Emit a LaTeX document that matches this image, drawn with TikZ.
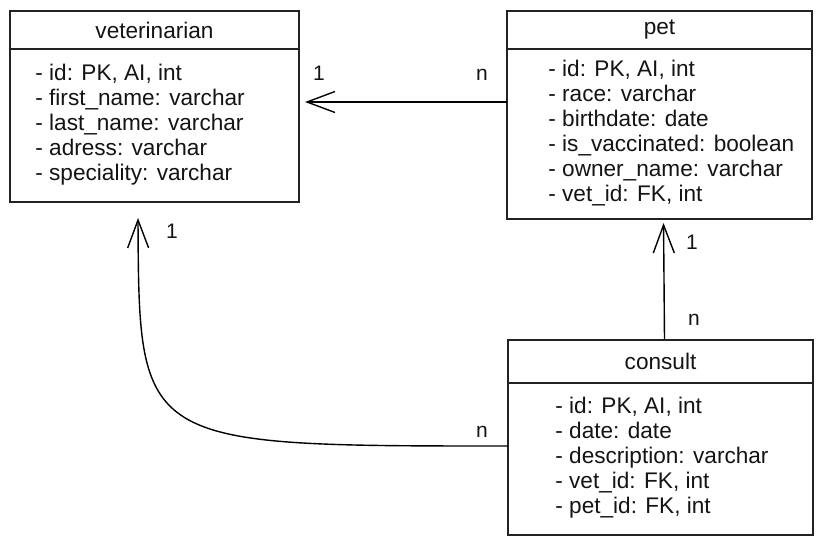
\documentclass[tikz,border=0pt]{standalone}
\usepackage{fontspec}
\setmainfont{Liberation Sans}
\usepackage{tikz}
\usetikzlibrary{arrows.meta,positioning,calc}
\definecolor{ERLine}{RGB}{34,34,34}
\definecolor{ERText}{RGB}{20,20,20}

\begin{document}
\begin{tikzpicture}[
    x=0.5pt, y=-0.5pt,
    tabbox/.style={draw=ERLine, line width=1pt, fill=white, outer sep=0pt, inner sep=0pt, text=ERText, font=\fontsize{11.3}{12.5}\selectfont},
    fields/.style={align=left, inner sep=0pt, anchor=west, text=ERText, font=\fontsize{11.3}{12.5}\selectfont},
    card/.style={inner sep=0pt, text=ERText, font=\fontsize{10.5}{12}\selectfont},
    rel/.style={-{Straight Barb[length=14pt,width=10.5pt]}, line width=0.7pt, draw=black}
  ]
    \useasboundingbox (0,0) rectangle (823,545);
    \node[tabbox, minimum width=144.5pt, minimum height=19pt] (vethead) at (154.5,30) {veterinarian};
    \node[tabbox, minimum width=144.5pt, minimum height=76.5pt, below=0pt of vethead] (vetbody) {};
    \node[fields] (vetfields) at ($(vetbody.west)+(25,-0.5)$) {- id: PK, AI, int\\- first\_name: varchar\\- last\_name: varchar\\- adress: varchar\\- speciality: varchar};
    \node[tabbox, minimum width=152.5pt, minimum height=19pt] (pethead) at (659.5,30) {pet};
    \node[tabbox, minimum width=152.5pt, minimum height=85pt, below=0pt of pethead] (petbody) {};
    \node[fields] (petfields) at ($(petbody.west)+(41,-1)$) {- id: PK, AI, int\\- race: varchar\\- birthdate: date\\- is\_vaccinated: boolean\\- owner\_name: varchar\\- vet\_id: FK, int};
    \node[tabbox, minimum width=152.5pt, minimum height=21.5pt] (conhead) at (660.5,361.5) {consult};
    \node[tabbox, minimum width=152.5pt, minimum height=76pt, below=0pt of conhead] (conbody) {};
    \node[fields] (confields) at ($(conbody.west)+(47,-1)$) {- id: PK, AI, int\\- date: date\\- description: varchar\\- vet\_id: FK, int\\- pet\_id: FK, int};
    \coordinate (petout) at ([yshift=16pt]petbody.west);
    \coordinate (conout) at ([yshift=6.5pt]conbody.west);
    \coordinate (vetin) at ([xshift=-8.25pt,yshift=-8pt]vetbody.south);
    \coordinate (bend) at (139,446);
    \draw[rel, shorten >=3pt] (petout) -- (vetbody.east |- petout);
    \draw[rel, shorten >=2pt] ([xshift=2pt]conhead.north) -- ([xshift=2pt]petbody.south);
    \draw[rel] (conout) .. controls (bend) and (bend) .. (vetin);
    \node[card] (vetone) at (319,73) {1};
    \node[card] (petmany) at (482,75) {n};
    \node[card] (petone) at (692,242) {1};
    \node[card] (conmany) at (694,320) {n};
    \node[card] (vetone2) at (172,231) {1};
    \node[card] (conmany2) at (482,432) {n};
  \end{tikzpicture}
\end{document}
